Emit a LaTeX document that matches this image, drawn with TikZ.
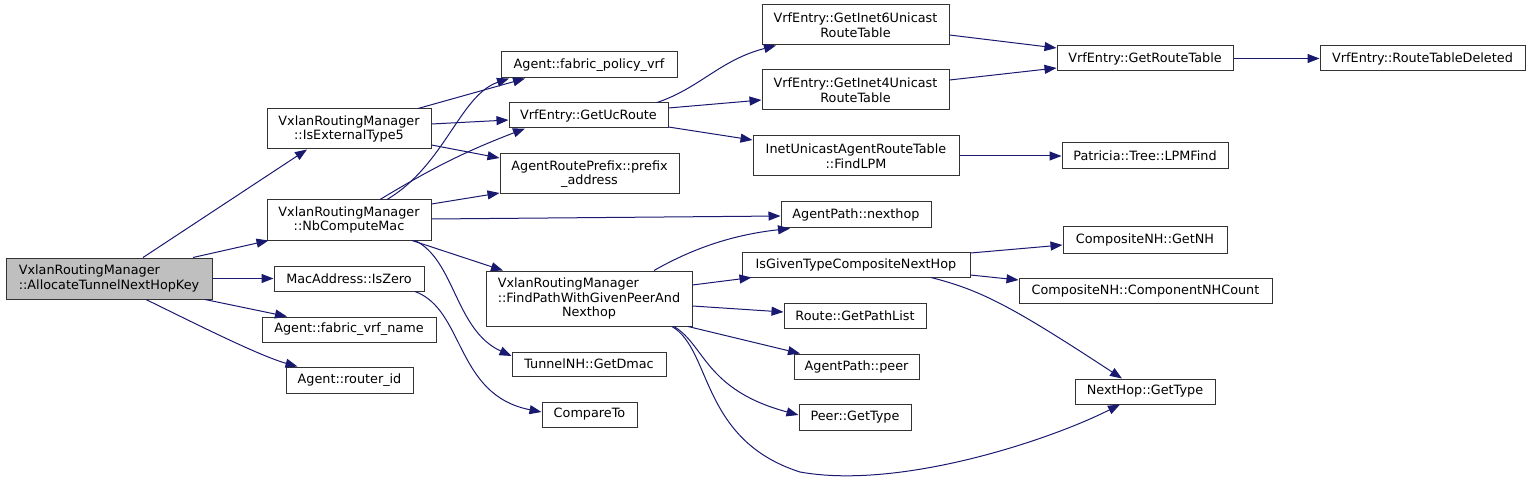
\documentclass[tikz,border=0pt]{standalone}
\usepackage{fontspec}
\setmainfont{DejaVu Sans}
\usetikzlibrary{arrows.meta}
\definecolor{edgec}{HTML}{191970}
\definecolor{boxc}{HTML}{333333}
\begin{document}
\begin{tikzpicture}[x=1pt,y=-1pt,
  fn/.style={draw=boxc,line width=1pt,rectangle,inner sep=0pt,align=center,
     font=\fontsize{12.8}{14.5}\selectfont},
  call/.style={draw=edgec,line width=1pt,-{Triangle[length=12pt,width=9pt]}}]
\useasboundingbox (0,0) rectangle (1531,481);
% column 0
\node[fn,fill=black!25,align=left,minimum width=206pt,minimum height=41pt] (alloc) at (109,278.5) {VxlanRoutingManager\\::AllocateTunnelNextHopKey};
% column 1
\node[fn,minimum width=164pt,minimum height=40pt] (ext5) at (349,129) {VxlanRoutingManager\\::IsExternalType5};
\node[fn,minimum width=164pt,minimum height=40pt] (nbc) at (349,220) {VxlanRoutingManager\\::NbComputeMac};
\node[fn,minimum width=150pt,minimum height=25pt] (zero) at (349,278.5) {MacAddress::IsZero};
\node[fn,minimum width=174pt,minimum height=25pt] (fvrf) at (349,329.5) {Agent::fabric\_vrf\_name};
\node[fn,minimum width=127pt,minimum height=26pt] (rid) at (349.5,380) {Agent::router\_id};
% column 2
\node[fn,minimum width=176pt,minimum height=26pt] (fpv) at (589,65) {Agent::fabric\_policy\_vrf};
\node[fn,minimum width=159pt,minimum height=25pt] (ucr) at (588.5,115.5) {VrfEntry::GetUcRoute};
\node[fn,minimum width=179pt,minimum height=40pt] (pfx) at (589.5,174) {AgentRoutePrefix::prefix\\\_address};
\node[fn,minimum width=206pt,minimum height=55pt] (fpath) at (589,298.5) {\rlap{VxlanRoutingManager}\phantom{::FindPathWithGivenPeerAnd}\\::FindPathWithGivenPeerAnd\\Nexthop};
\node[fn,minimum width=154pt,minimum height=24pt] (dmac) at (589,364) {TunnelNH::GetDmac};
\node[fn,minimum width=95pt,minimum height=25pt] (cmp) at (589.5,414.5) {CompareTo};
% column 3
\node[fn,minimum width=187pt,minimum height=40pt] (inet6) at (855.5,25) {VrfEntry::GetInet6Unicast\\RouteTable};
\node[fn,minimum width=187pt,minimum height=40pt] (inet4) at (855.5,90) {VrfEntry::GetInet4Unicast\\RouteTable};
\node[fn,minimum width=206pt,minimum height=40pt] (lpm) at (856,156) {InetUnicastAgentRouteTable\\::FindLPM};
\node[fn,minimum width=150pt,minimum height=26pt] (nh) at (856,215) {AgentPath::nexthop};
\node[fn,minimum width=228pt,minimum height=25pt] (igt) at (856,264.5) {IsGivenTypeCompositeNextHop};
\node[fn,minimum width=142pt,minimum height=25pt] (gpl) at (855,315.5) {Route::GetPathList};
\node[fn,minimum width=125pt,minimum height=25pt] (peer) at (856.5,366.5) {AgentPath::peer};
\node[fn,minimum width=112pt,minimum height=26pt] (pgt) at (855,417) {Peer::GetType};
% column 4
\node[fn,minimum width=176pt,minimum height=25pt] (grt) at (1145,58.5) {VrfEntry::GetRouteTable};
\node[fn,minimum width=166pt,minimum height=26pt] (lpmf) at (1145,156) {Patricia::Tree::LPMFind};
\node[fn,minimum width=164pt,minimum height=26pt] (gnh) at (1145,240) {CompositeNH::GetNH};
\node[fn,minimum width=253pt,minimum height=25pt] (cnc) at (1145.5,290.5) {CompositeNH::ComponentNHCount};
\node[fn,minimum width=140pt,minimum height=25pt] (nhgt) at (1145,391.5) {NextHop::GetType};
% column 5
\node[fn,minimum width=205pt,minimum height=25pt] (rtd) at (1422.5,58.5) {VrfEntry::RouteTableDeleted};

% edges from alloc
\draw[call] ([xshift=34pt]alloc.north) -- ([xshift=-42pt]ext5.south);
\draw[call] ([xshift=84pt]alloc.north) -- ([xshift=2pt]nbc.south west);
\draw[call] (alloc.east) -- (zero.west);
\draw[call] ([xshift=96pt]alloc.south) -- ([xshift=-62pt]fvrf.north);
\draw[call] ([xshift=37pt]alloc.south) .. controls (200,326) and (260,356) .. ([xshift=-52pt]rid.north);
% from ext5
\draw[call] ([xshift=69pt]ext5.north) -- ([xshift=-64pt]fpv.south);
\draw[call] ([yshift=5pt]ext5.east) -- ([yshift=-4.5pt]ucr.west);
\draw[call] ([yshift=-16pt]ext5.east) -- ([yshift=16pt]pfx.west);
% from nbc
\draw[call] ([xshift=38pt]nbc.north) .. controls (445,165) and (460,95) .. ([xshift=-80pt]fpv.south);
\draw[call] ([xshift=31pt]nbc.north) to[bend left=5] ([xshift=-63.5pt]ucr.south);
\draw[call] ([yshift=16pt]nbc.east) -- ([yshift=-19pt]pfx.west);
\draw[call] ([yshift=1pt]nbc.east) -- ([yshift=-1pt]nh.west);
\draw[call] ([xshift=63pt]nbc.south) -- ([xshift=-86pt]fpath.north);
\draw[call] ([xshift=66pt]nbc.south) .. controls (455,260) and (455,330) .. ([yshift=8pt]dmac.west);
% from zero
\draw[call] ([xshift=66pt]zero.south) .. controls (465,310) and (455,395) .. ([yshift=2.5pt]cmp.west);
% from ucr
\draw[call] ([xshift=68.5pt]ucr.north) .. controls (700,88) and (720,60) .. ([xshift=-79.5pt]inet6.south);
\draw[call] ([yshift=7.5pt]ucr.east) -- ([yshift=-10pt]inet4.west);
\draw[call] ([yshift=-11.5pt]ucr.east) -- ([yshift=16pt]lpm.west);
% column 3 to 4
\draw[call] ([yshift=-10pt]inet6.east) -- ([yshift=10.5pt]grt.west);
\draw[call] ([yshift=10pt]inet4.east) -- ([yshift=-9.5pt]grt.west);
\draw[call] (grt.east) -- (rtd.west);
\draw[call] (lpm.east) -- (lpmf.west);
% from fpath
\draw[call] ([xshift=65pt]fpath.north) .. controls (690,250) and (730,235) .. ([xshift=-66pt]nh.south);
\draw[call] ([yshift=13.5pt]fpath.east) -- ([xshift=10pt]igt.south west);
\draw[call] ([yshift=-7.5pt]fpath.east) -- ([yshift=3.5pt]gpl.west);
\draw[call] ([xshift=99pt]fpath.south) -- ([xshift=-56.5pt]peer.north);
\draw[call] ([xshift=85pt]fpath.south) .. controls (705,345) and (705,390) .. ([yshift=2pt]pgt.west);
\draw[call] ([xshift=83pt]fpath.south) .. controls (712,350) and (700,440) .. (800,472) .. controls (900,490) and (1050,440) .. ([xshift=-25pt]nhgt.south);
% from igt
\draw[call] ([yshift=11.5pt]igt.east) -- ([yshift=-5pt]gnh.west);
\draw[call] ([yshift=-10.5pt]igt.east) -- ([yshift=10.5pt]cnc.west);
\draw[call] ([xshift=75pt]igt.south) .. controls (980,290) and (1010,305) .. ([xshift=-23pt]nhgt.north);
\end{tikzpicture}
\end{document}
